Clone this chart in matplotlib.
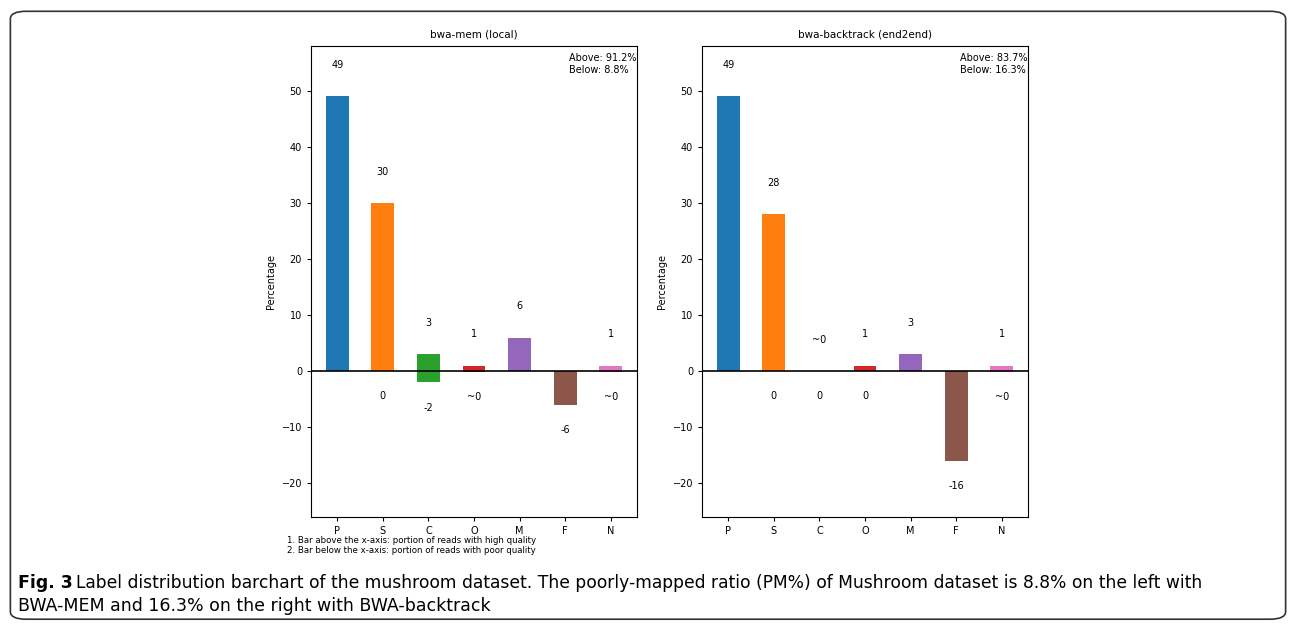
import matplotlib.pyplot as plt
from matplotlib.patches import FancyBboxPatch

categories = ["P", "S", "C", "O", "M", "F", "N"]
colors = ["#1f77b4", "#ff7f0e", "#2ca02c", "#d62728", "#9467bd", "#8c564b", "#e377c2"]

# bwa-mem (local)
mem_above = [49, 30, 3, 1, 6, 0, 1]
mem_above_txt = ["49", "30", "3", "1", "6", "", "1"]
mem_below = [0, 0, -2, -0.1, 0, -6, -0.1]
mem_below_txt = ["", "0", "-2", "~0", "", "-6", "~0"]
mem_summary = "Above: 91.2%\nBelow: 8.8%"

# bwa-backtrack (end2end)
bt_above = [49, 28, 0.05, 1, 3, 0, 1]
bt_above_txt = ["49", "28", "~0", "1", "3", "", "1"]
bt_below = [0, 0, 0, 0, 0, -16, -0.1]
bt_below_txt = ["", "0", "0", "0", "", "-16", "~0"]
bt_summary = "Above: 83.7%\nBelow: 16.3%"

fig = plt.figure(figsize=(12.96, 6.28), dpi=100)

# rounded frame around the figure
frame = FancyBboxPatch((0.008, 0.014), 0.984, 0.968, boxstyle="round,pad=0,rounding_size=0.012",
                       transform=fig.transFigure, fill=False, edgecolor="#333333", linewidth=1.2)
fig.patches.append(frame)


def panel(ax, title, above, above_txt, below, below_txt, summary):
    x = range(len(categories))
    ax.bar(x, above, width=0.5, color=colors)
    ax.bar(x, below, width=0.5, color=colors)
    ax.axhline(0, color="black", linewidth=1.2)
    for i in x:
        if above_txt[i]:
            ax.text(i, above[i] + 4.7, above_txt[i], ha="center", va="bottom", fontsize=7)
        if below_txt[i]:
            ax.text(i, below[i] - 3.6, below_txt[i], ha="center", va="top", fontsize=7)
    ax.set_xticks(list(x))
    ax.set_xticklabels(categories)
    ax.set_ylim(-26, 58)
    ax.set_yticks([-20, -10, 0, 10, 20, 30, 40, 50])
    ax.tick_params(labelsize=7, length=3)
    ax.set_ylabel("Percentage", fontsize=7)
    ax.set_title(title, fontsize=7.5)
    ax.text(0.79, 0.985, summary, transform=ax.transAxes, ha="left", va="top", fontsize=7)


ax1 = fig.add_axes([0.240, 0.1768, 0.2515, 0.75])
panel(ax1, "bwa-mem (local)", mem_above, mem_above_txt, mem_below, mem_below_txt, mem_summary)
ax2 = fig.add_axes([0.5417, 0.1768, 0.2515, 0.75])
panel(ax2, "bwa-backtrack (end2end)", bt_above, bt_above_txt, bt_below, bt_below_txt, bt_summary)

fig.text(0.2215, 0.147, "1. Bar above the x-axis: portion of reads with high quality\n"
         "2. Bar below the x-axis: portion of reads with poor quality",
         ha="left", va="top", fontsize=6.2, linespacing=1.15)

cap_font = ["Liberation Sans Narrow", "DejaVu Sans"]
fig.text(0.014, 0.072, "Fig. 3", ha="left", va="center", fontsize=12.5, fontweight="bold", family=cap_font)
fig.text(0.059, 0.072, "Label distribution barchart of the mushroom dataset. The poorly-mapped ratio (PM%) of "
         "Mushroom dataset is 8.8% on the left with", ha="left", va="center", fontsize=12.3, family=cap_font)
fig.text(0.014, 0.035, "BWA-MEM and 16.3% on the right with BWA-backtrack",
         ha="left", va="center", fontsize=12.5, family=cap_font)

fig.savefig("out.png", dpi=100)
